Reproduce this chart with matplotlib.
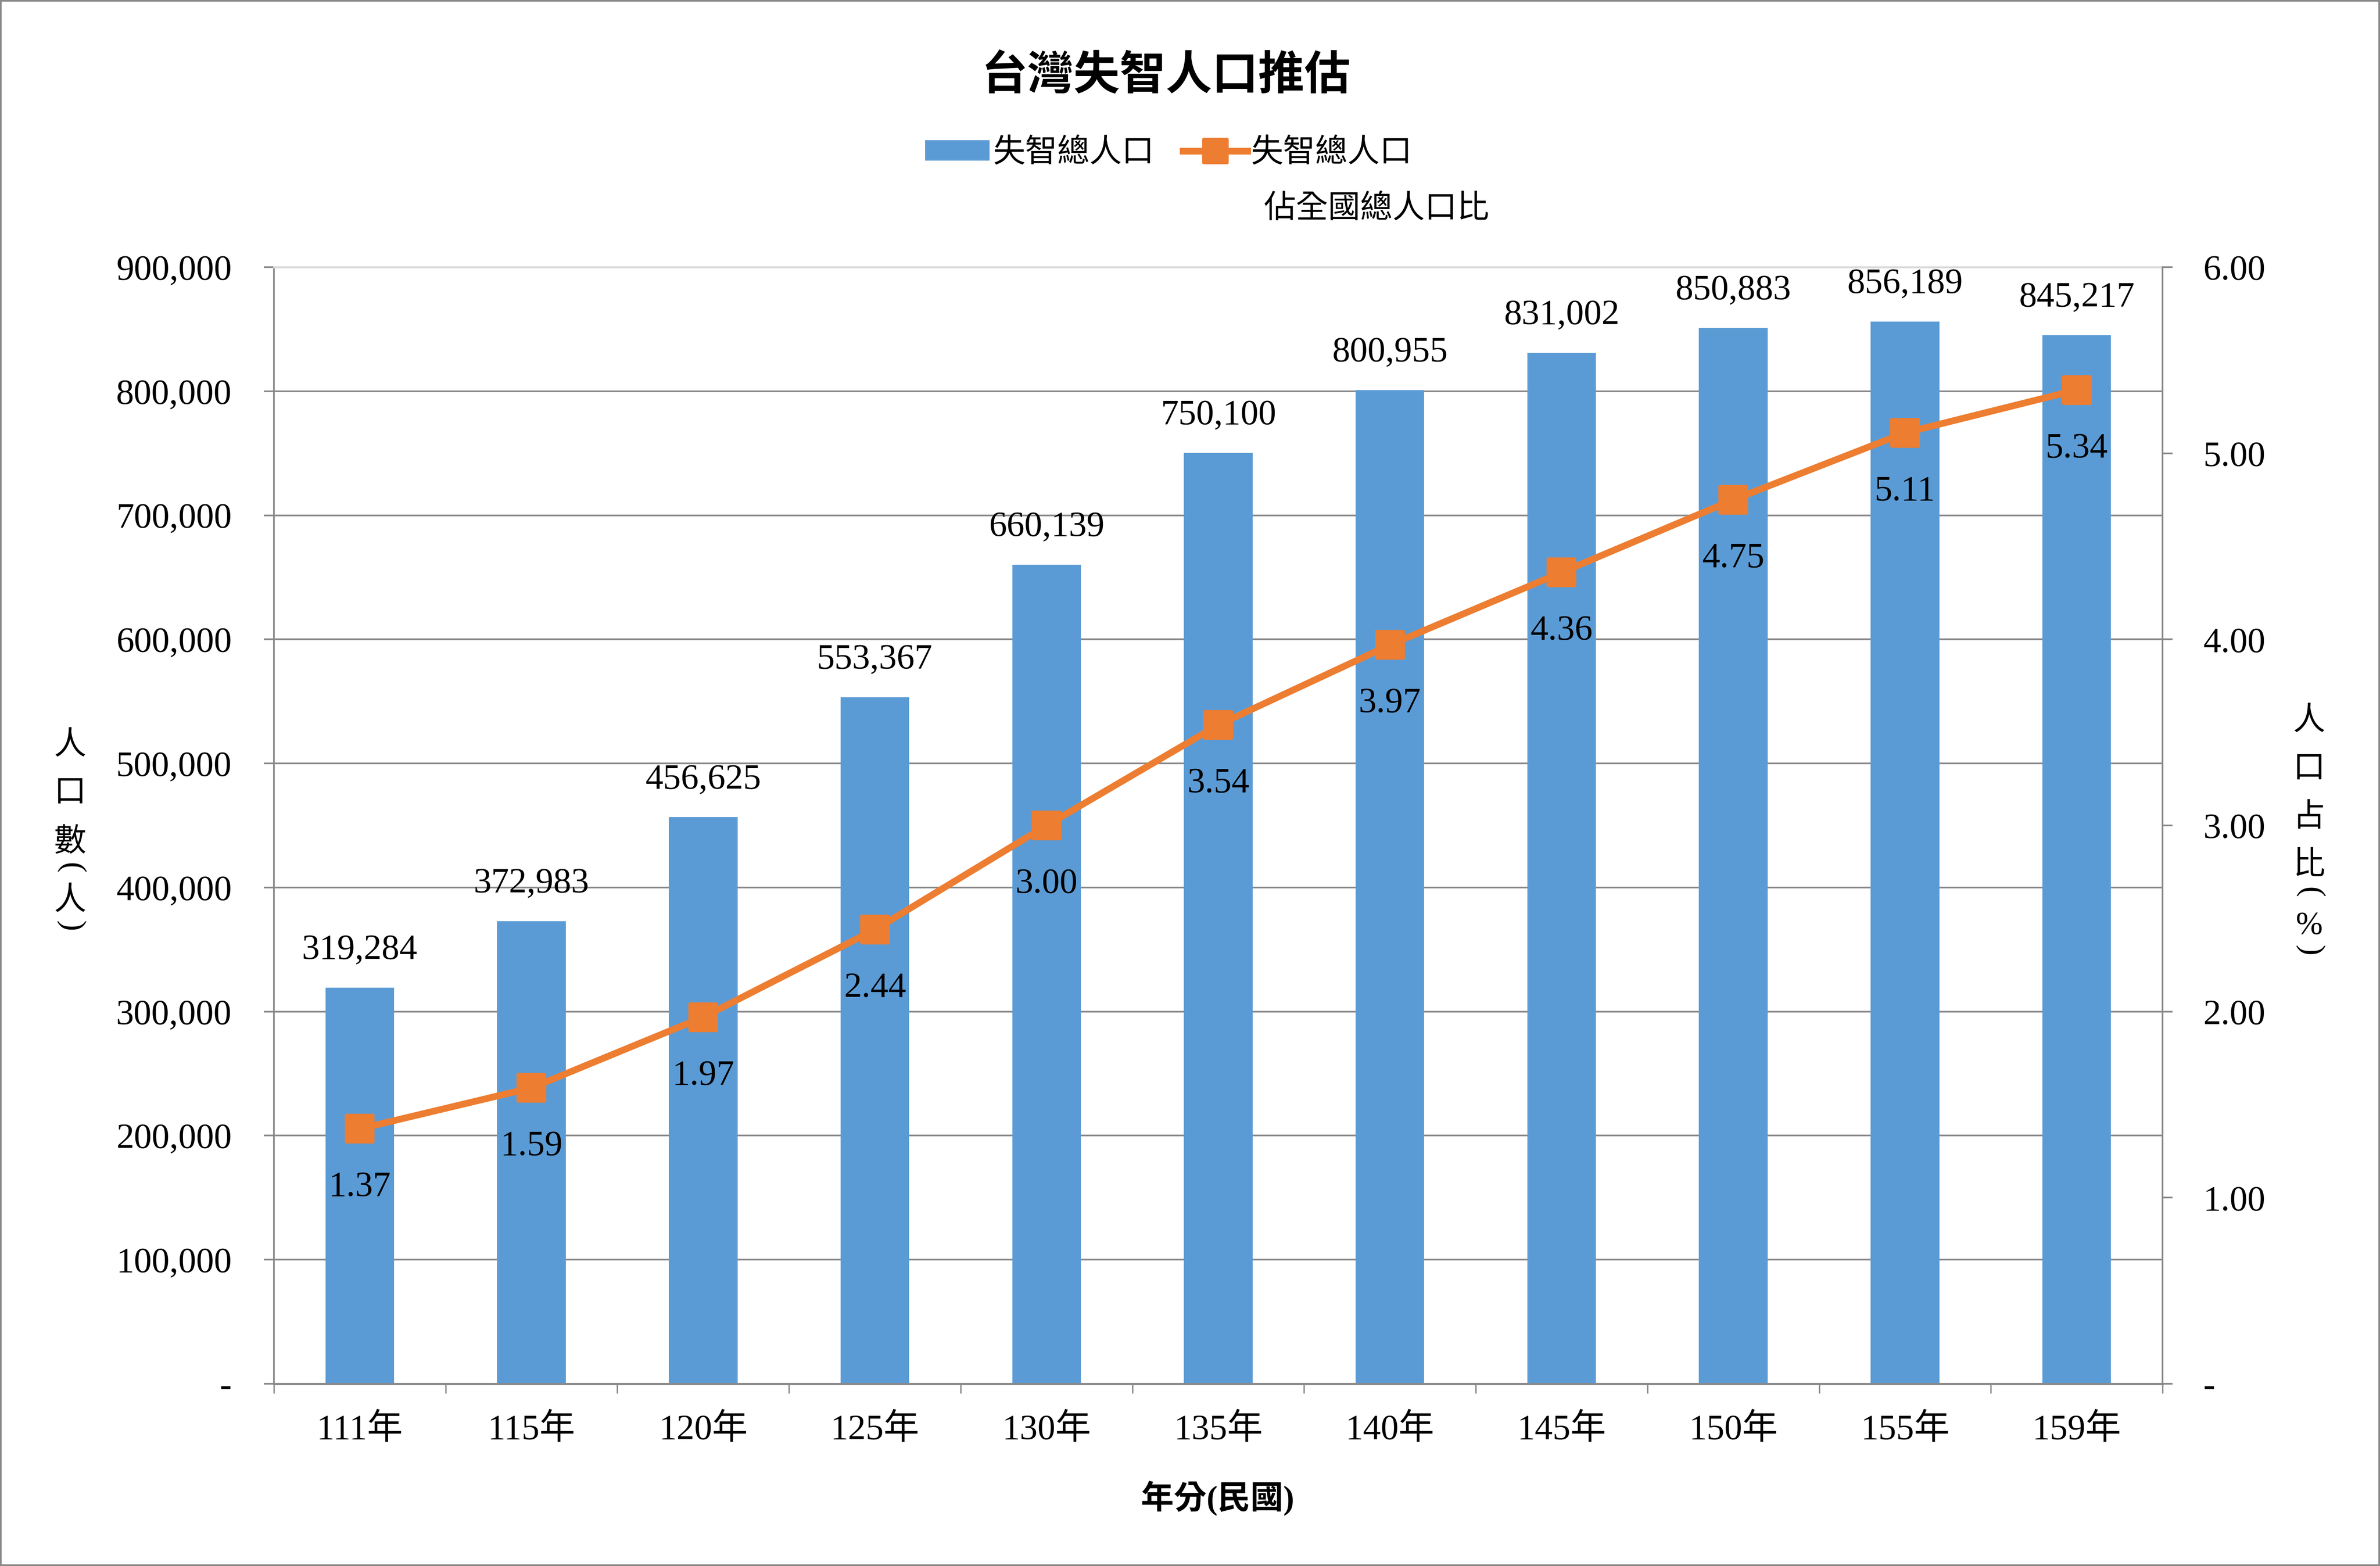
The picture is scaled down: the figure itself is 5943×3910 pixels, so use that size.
import numpy as np
import matplotlib
matplotlib.use("Agg")
import matplotlib.pyplot as plt
from matplotlib.ticker import FuncFormatter
from matplotlib.markers import MarkerStyle
from matplotlib.patches import Patch, Rectangle
from matplotlib.lines import Line2D

# data
years = ["111年", "115年", "120年", "125年", "130年", "135年",
         "140年", "145年", "150年", "155年", "159年"]
population = [319284, 372983, 456625, 553367, 660139, 750100,
              800955, 831002, 850883, 856189, 845217]
share = [1.37, 1.59, 1.97, 2.44, 3.00, 3.54, 3.97, 4.36, 4.75, 5.11, 5.34]

BLUE = "#5B9BD5"
ORANGE = "#ED7D31"
GRAY = "#898989"
LIGHT = "#D9D9D9"

plt.rcParams["font.family"] = ["Liberation Serif", "Noto Sans CJK TC"]

W, H = 5943, 3910
fig = plt.figure(figsize=(W / 100, H / 100), dpi=100)

left, right, bottom, top = 684 / W, 5400 / W, 1 - 3455 / H, 1 - 667 / H
ax = fig.add_axes([left, bottom, right - left, top - bottom])
ax2 = ax.twinx()

x = np.arange(len(years))
ax.bar(x, population, width=0.4, color=BLUE, zorder=2)
sq = MarkerStyle("s", joinstyle="round")
ax2.plot(x, share, color=ORANGE, lw=12, marker=sq, ms=48,
         mec=ORANGE, mew=6, zorder=3)

# data labels
for xi, v in zip(x, population):
    ax.annotate(f"{v:,}", (xi, v), xytext=(0, 38), textcoords="offset points",
                ha="center", va="bottom", fontsize=64)
for xi, v in zip(x, share):
    ax2.annotate(f"{v:.2f}", (xi, v), xytext=(0, -76), textcoords="offset points",
                 ha="center", va="top", fontsize=64, zorder=4)

# axes limits and ticks
ax.set_xlim(-0.5, len(years) - 0.5)
ax.set_ylim(0, 900000)
ax2.set_ylim(0, 6)
ax.set_yticks(np.arange(0, 900001, 100000))
ax2.set_yticks(np.arange(0, 7, 1))
ax.yaxis.set_major_formatter(FuncFormatter(lambda v, p: "-" if v == 0 else f"{int(v):,}"))
ax2.yaxis.set_major_formatter(FuncFormatter(lambda v, p: "-" if v == 0 else f"{v:.2f}"))

ax.set_xticks(np.arange(-0.5, len(years), 1))
ax.set_xticklabels([])
ax.set_xticks(x, years, minor=True)
ax.tick_params(axis="x", which="major", direction="out", length=17, width=2.5, color=GRAY)
ax.tick_params(axis="x", which="minor", length=0, pad=54, labelsize=64)
ax.tick_params(axis="y", direction="out", length=18, width=3, color=GRAY,
               pad=58, labelsize=64)
ax2.tick_params(axis="y", direction="out", length=18, width=3, color=GRAY,
                pad=55, labelsize=64)

# grid and spines
ax.set_axisbelow(True)
ax.yaxis.grid(True, color=GRAY, lw=3)
ax.yaxis.get_gridlines()[-1].set_visible(False)
ax.spines["top"].set_color(LIGHT)
ax.spines["top"].set_linewidth(3.5)
ax.spines["left"].set_color(GRAY)
ax.spines["left"].set_linewidth(3)
ax.spines["bottom"].set_color(GRAY)
ax.spines["bottom"].set_linewidth(3.5)
ax.spines["right"].set_visible(False)
for s in ["top", "left", "bottom"]:
    ax2.spines[s].set_visible(False)
ax2.spines["right"].set_color(GRAY)
ax2.spines["right"].set_linewidth(3)

# title, legend, axis labels
fig.text(0.49, 0.951, "台灣失智人口推估", fontsize=83, fontweight="bold",
         ha="center", va="center")

handles = [Patch(facecolor=BLUE),
           Line2D([], [], color=ORANGE, lw=12, marker=sq, ms=42, mec=ORANGE, mew=6)]
fig.legend(handles, ["失智總人口", "失智總人口"], ncol=2, loc="center",
           bbox_to_anchor=(0.491, 0.902), frameon=False, fontsize=58,
           handlelength=2.0, handleheight=0.6, handletextpad=0.1,
           columnspacing=0.9, borderpad=0)
fig.text(0.531, 0.866, "佔全國總人口比", fontsize=58, ha="left", va="center")

fig.text(0.5116, 0.043, "年分(民國)", fontsize=59, fontweight="bold",
         ha="center", va="center")


def stack_text(xc, ys_px, chars):
    # upright characters stacked vertically; brackets turned to vertical form
    for ch, yp in zip(chars, ys_px):
        rot = -90 if ch in "()" else 0
        fig.text(xc, 1 - yp / H, ch, fontsize=58, ha="center", va="center",
                 rotation=rot)


stack_text(175 / W, [1863, 1982, 2104, 2167, 2251, 2312],
           ["人", "口", "數", "(", "人", ")"])
stack_text(5766 / W, [1802, 1922, 2043, 2164, 2228, 2312, 2373],
           ["人", "口", "占", "比", "(", "%", ")"])

# outer border of the chart area
fig.patches.append(Rectangle((0, 0), 1, 1, transform=fig.transFigure,
                             fill=False, edgecolor=GRAY, lw=6))

fig.savefig("out.png", dpi=100)
